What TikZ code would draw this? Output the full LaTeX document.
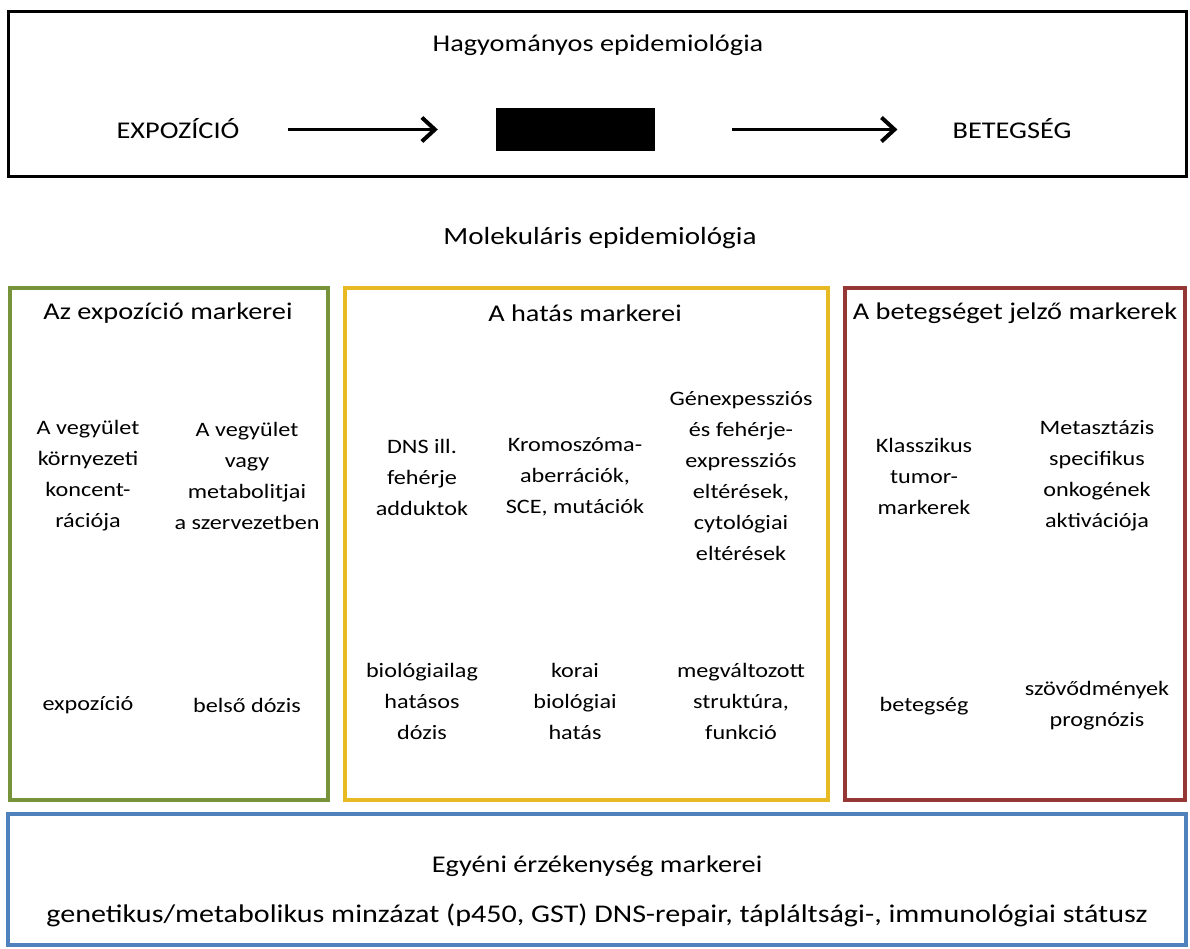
\documentclass[tikz,border=0pt]{standalone}
\usepackage{fontspec}
\setmainfont{Carlito}[FakeStretch=1.18]
\usetikzlibrary{arrows.meta}

\definecolor{expgreen}{RGB}{119,147,60}
\definecolor{hatyellow}{RGB}{231,186,36}
\definecolor{betred}{RGB}{149,55,53}
\definecolor{egyblue}{RGB}{79,129,189}

\begin{document}
\begin{tikzpicture}[x=1pt,y=-1pt,
  txt/.style={align=center,font=\fontsize{20.5}{31}\selectfont,inner sep=0pt},
  head/.style={font=\fontsize{24}{29}\selectfont,inner sep=0pt},
  flow/.style={line width=3.5pt,-{Straight Barb[length=13pt,width=24pt,line width=4pt]}}]
  \useasboundingbox[fill=white] (0,0) rectangle (1190,949);
  % hagyomanyos
  \draw[line width=3pt] (8,12) rectangle (1186,177);
  \node[head] (hagy) at (598,45) {Hagyományos epidemiológia};
  \node[head,anchor=base] (expo) at (178,139) {EXPOZÍCIÓ};
  \node[fill=black,minimum width=159pt,minimum height=43pt,inner sep=0pt] (blk) at (575.5,129.5) {};
  \node[head,anchor=base] (beteg) at (1012,139) {BETEGSÉG};
  \draw[flow,shorten <=48pt,shorten >=58pt] (expo.east |- blk.west) -- (blk.west);
  \draw[flow,shorten <=77pt,shorten >=55pt] (blk.east) -- (beteg.west |- blk.east);
  % molekularis
  \node[head,font=\fontsize{24.7}{29}\selectfont] (molek) at (600,238) {Molekuláris epidemiológia};
  \draw[expgreen,line width=4pt] (10,288) rectangle (328,800);
  \draw[hatyellow,line width=4pt] (345,288) rectangle (828,800);
  \draw[betred,line width=4pt] (845,288) rectangle (1185,800);
  \node[head] (exphead) at (168,313) {Az expozíció markerei};
  \node[head] (hathead) at (585,313) {A hatás markerei};
  \node[head] (bethead) at (1015,313) {A betegséget jelző markerek};
  \node[txt] (exp1) at (88,476) {A vegyület\\környezeti\\koncent-\\rációja};
  \node[txt] (exp2) at (247,476) {A vegyület\\vagy\\metabolitjai\\a szervezetben};
  \node[txt] (exp3) at (88,705) {expozíció};
  \node[txt] (exp4) at (247,705) {belső dózis};
  \node[txt] (hat1) at (422,477) {DNS ill.\\fehérje\\adduktok};
  \node[txt] (hat2) at (575,477) {Kromoszóma-\\aberrációk,\\SCE, mutációk};
  \node[txt] (hat3) at (741,476) {Génexpessziós\\és fehérje-\\expressziós\\eltérések,\\cytológiai\\eltérések};
  \node[txt] (hat4) at (422,701) {biológiailag\\hatásos\\dózis};
  \node[txt] (hat5) at (575,701) {korai\\biológiai\\hatás};
  \node[txt] (hat6) at (741,701) {megváltozott\\struktúra,\\funkció};
  \node[txt] (bet1) at (924,476) {Klasszikus\\tumor-\\markerek};
  \node[txt] (bet2) at (1097,476) {Metasztázis\\specifikus\\onkogének\\aktivációja};
  \node[txt] (bet3) at (924,706) {betegség};
  \node[txt] (bet4) at (1097,706) {szövődmények\\prognózis};
  % egyeni
  \draw[egyblue,line width=4pt] (8,814) rectangle (1186,945);
  \node[head] (egyhead) at (597,866) {Egyéni érzékenység markerei};
  \node[head,font=\fontsize{25.5}{29}\selectfont] (egytxt) at (597,915) {genetikus/metabolikus minzázat (p450, GST) DNS-repair, tápláltsági-, immunológiai státusz};
\end{tikzpicture}
\end{document}
